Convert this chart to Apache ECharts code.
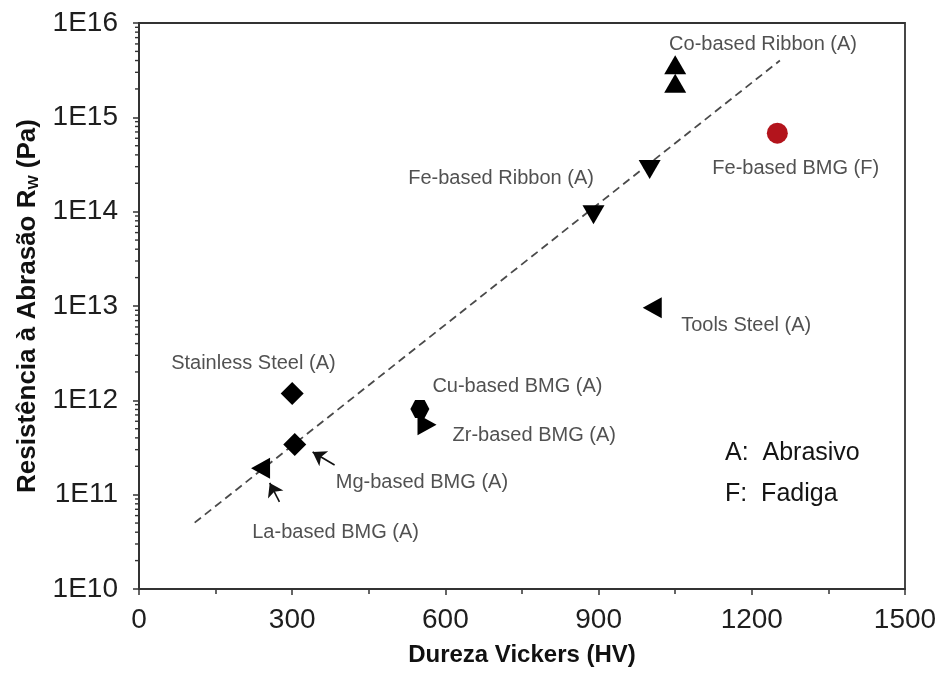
<!DOCTYPE html>
<html>
<head>
<meta charset="utf-8">
<script src="https://cdn.jsdelivr.net/npm/echarts@6/dist/echarts.min.js"></script>
<style>
  html, body { margin: 0; padding: 0; background: #fff; }
  #chart { width: 941px; height: 675px; }
</style>
</head>
<body>
<div id="chart"></div>
<script>
// Vickers hardness (HV) against abrasion resistance Rw (Pa), log scale
const coBasedRibbon  = [[1050, 3.6e15], [1050, 2.3e15]];
const feBasedRibbon  = [[890, 9.3e13], [1000, 2.8e14]];
const toolsSteel     = [[1005, 9.6e12]];
const stainlessSteel = [[300, 1.18e12]];
const mgBasedBMG     = [[305, 3.4e11]];
const laBasedBMG     = [[238, 1.9e11]];
const cuBasedBMG     = [[550, 8.1e11]];
const zrBasedBMG     = [[564, 5.5e11]];
const feBasedBMG     = [[1250, 6.8e14]];
const trendLine      = [[109, 5.05e10], [1255, 4.0e15]];

const xTickLabels = ['0', '300', '600', '900', '1200', '1500'];
const yTickLabels = ['1E10', '1E11', '1E12', '1E13', '1E14', '1E15', '1E16'];

// annotation texts, anchored (centred) at data coordinates
const noteTexts = ['Co-based Ribbon (A)', 'Fe-based BMG (F)', 'Fe-based Ribbon (A)', 'Tools Steel (A)',
                   'Stainless Steel (A)', 'Cu-based BMG (A)', 'Zr-based BMG (A)', 'Mg-based BMG (A)', 'La-based BMG (A)'];
const noteAnchors = [[1222, 5.85e15], [1286, 2.87e14], [709, 2.25e14], [1189, 6.28e12],
                     [224, 2.43e12], [741, 1.40e12], [774, 4.19e11], [554, 1.36e11], [385, 3.97e10]];

// pointer arrows: [tail, head]
const arrowPaths = [
  [[383, 2.06e11], [340, 2.83e11]],
  [[275, 8.4e10], [256, 1.33e11]]
];

// minor ticks of the logarithmic axis (2..9 in every decade)
const minorTickValues = [];
for (let e = 10; e < 16; e++) {
  for (let k = 2; k <= 9; k++) minorTickValues.push([0, k * Math.pow(10, e)]);
}

const FONT = 'Liberation Sans, Arial, sans-serif';
const INK = '#1e1e1e';

const chart = echarts.init(document.getElementById('chart'), null, { renderer: 'canvas' });

function marker(name, data, symbol, size, rotate, color, z) {
  return {
    name, type: 'scatter', data, symbol, symbolSize: size, symbolRotate: rotate || 0,
    itemStyle: { color: color || '#000', opacity: 1 }, z: z || 3, silent: true
  };
}

chart.setOption({
  animation: false,
  backgroundColor: '#fff',
  grid: {
    left: 139, right: 36, top: 23, bottom: 86,
    show: true, borderColor: '#333', borderWidth: 1.8, backgroundColor: 'transparent'
  },
  xAxis: {
    type: 'value', min: 0, max: 1500, interval: 300,
    name: 'Dureza Vickers (HV)', nameLocation: 'middle', nameGap: 54,
    nameTextStyle: { fontFamily: FONT, fontWeight: 'bold', fontSize: 24, color: '#111' },
    axisLine: { show: true, lineStyle: { color: '#333', width: 2 } },
    axisTick: { show: true, length: 6, lineStyle: { color: '#333', width: 1.5 } },
    minorTick: { show: true, splitNumber: 2, length: 5, lineStyle: { color: '#333', width: 1.5 } },
    axisLabel: {
      fontFamily: FONT, fontSize: 28, color: INK, margin: 17,
      formatter: (v, i) => xTickLabels[i]
    },
    splitLine: { show: false }
  },
  yAxis: {
    type: 'log', logBase: 10, min: 1e10, max: 1e16,
    name: '{t|Resistência à Abrasão R}{s|W}{t| (Pa)}',
    nameLocation: 'middle', nameGap: 98,
    nameTextStyle: {
      rich: {
        t: { fontFamily: FONT, fontWeight: 'bold', fontSize: 26, color: '#111' },
        s: { fontFamily: FONT, fontWeight: 'bold', fontSize: 15, color: '#111', verticalAlign: 'bottom', padding: [9, 0, 0, 0] }
      }
    },
    axisLine: { show: true, lineStyle: { color: '#333', width: 2 } },
    axisTick: { show: true, length: 6, lineStyle: { color: '#333', width: 1.5 } },
    axisLabel: {
      fontFamily: FONT, fontSize: 28, color: INK, margin: 21,
      formatter: (v, i) => yTickLabels[i]
    },
    splitLine: { show: false }
  },
  graphic: [
    { type: 'text', x: 725, y: 453, style: { text: 'A:  Abrasivo', fontFamily: FONT, fontSize: 25, fill: '#141414', verticalAlign: 'middle' } },
    { type: 'text', x: 725, y: 494, style: { text: 'F:  Fadiga', fontFamily: FONT, fontSize: 25, fill: '#141414', verticalAlign: 'middle' } }
  ],
  series: [
    {
      name: 'minor ticks', type: 'custom', data: minorTickValues, silent: true, clip: false, z: 5,
      renderItem: (params, api) => {
        const p = api.coord([api.value(0), api.value(1)]);
        return {
          type: 'line',
          shape: { x1: p[0] - 4, y1: p[1], x2: p[0], y2: p[1] },
          style: { stroke: '#333', lineWidth: 1.4 }
        };
      }
    },
    {
      name: 'trend', type: 'line', data: trendLine, symbol: 'none', silent: true, z: 2,
      lineStyle: { color: '#4a4a4a', width: 1.8, type: [8, 5] }
    },
    {
      name: 'arrows', type: 'lines', coordinateSystem: 'cartesian2d', silent: true, z: 4,
      data: arrowPaths.map(a => ({ coords: a })),
      symbol: ['none', 'arrow'], symbolSize: [0, 13],
      lineStyle: { color: '#111', width: 1.6, opacity: 1 }
    },
    marker('Co-based Ribbon', coBasedRibbon, 'triangle', [22, 19], 0),
    marker('Fe-based Ribbon', feBasedRibbon, 'triangle', [22, 19], 180),
    marker('Tools Steel', toolsSteel, 'triangle', [21, 19], 90),
    marker('Stainless Steel', stainlessSteel, 'diamond', [23, 23], 0),
    marker('Mg-based BMG', mgBasedBMG, 'diamond', [23, 23], 0),
    marker('La-based BMG', laBasedBMG, 'triangle', [21, 19], 90),
    marker('Zr-based BMG', zrBasedBMG, 'triangle', [21, 19], -90, '#000', 3),
    marker('Cu-based BMG', cuBasedBMG, 'path://M5,0 L15,0 L20,9 L15,18 L5,18 L0,9 Z', [19, 18], 0, '#000', 4),
    marker('Fe-based BMG', feBasedBMG, 'circle', 21, 0, '#b3141c'),
    {
      name: 'notes', type: 'scatter', silent: true, z: 6,
      data: noteTexts.map((t, i) => ({ name: t, value: noteAnchors[i] })),
      symbolSize: 1, itemStyle: { color: 'rgba(0,0,0,0)' },
      label: {
        show: true, position: 'inside', formatter: '{b}',
        fontFamily: FONT, fontSize: 20, color: '#262626',
        textBorderWidth: 0, textBorderColor: 'transparent'
      }
    }
  ]
});
</script>
</body>
</html>
